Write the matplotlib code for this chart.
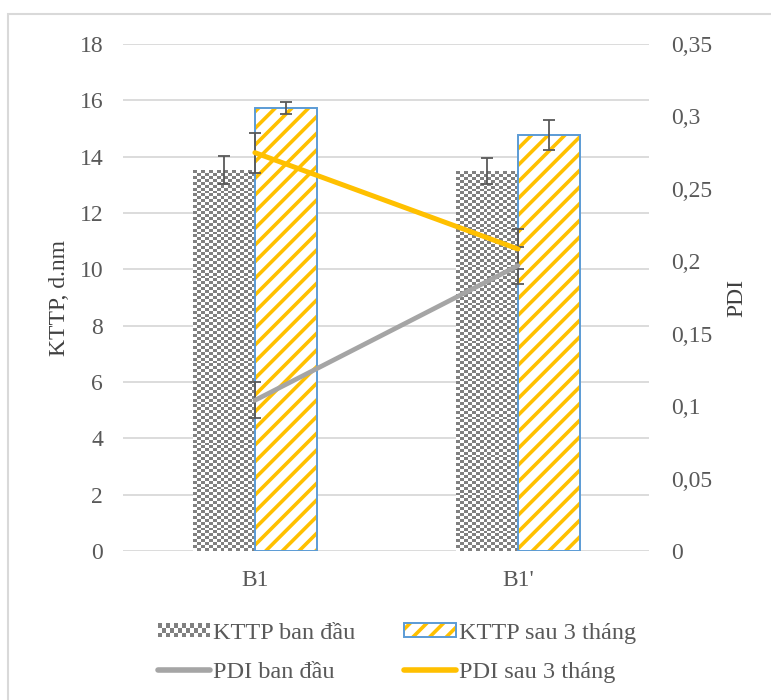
import numpy as np
import matplotlib
matplotlib.use("Agg")
import matplotlib.pyplot as plt
from matplotlib.patches import Rectangle, Patch
from matplotlib.lines import Line2D
from matplotlib.colors import ListedColormap
from matplotlib.legend_handler import HandlerBase, HandlerTuple

categories = ["B1", "B1'"]
kttp_start = [13.52, 13.49]
kttp_start_err = [0.5, 0.45]
kttp_3m = [15.73, 14.77]
kttp_3m_err = [0.2, 0.53]
pdi_start = [0.104, 0.197]
pdi_start_err = [0.0125, 0.013]
pdi_3m = [0.275, 0.2085]
pdi_3m_err = [0.0138, 0.0138]

plt.rcParams["font.family"] = ["Liberation Serif", "DejaVu Serif"]
plt.rcParams["hatch.linewidth"] = 2.6

GRAY_TXT = "#595959"
GRID = "#d9d9d9"
YELLOW = "#ffc000"
BLUE = "#5b9bd5"
LINE_GRAY = "#a5a5a5"
CHECK_DARK = "#808080"
FS = 17


class CheckerHandler(HandlerBase):
    def create_artists(self, legend, orig_handle, xdescent, ydescent,
                       width, height, fontsize, trans):
        cell = 2.9
        nx = int(round(width / cell))
        ny = max(1, int(round(height / cell)))
        cw, ch = width / nx, height / ny
        arts = [Rectangle((-xdescent, -ydescent), width, height, facecolor="white",
                          edgecolor="none", transform=trans)]
        for i in range(nx):
            for j in range(ny):
                if (i + j) % 2 == 0:
                    arts.append(Rectangle((-xdescent + i * cw, -ydescent + j * ch), cw, ch,
                                          facecolor=CHECK_DARK, edgecolor="none", transform=trans))
        return arts


fig = plt.figure(figsize=(7.71, 7.0), dpi=100)
ax = fig.add_axes([0.160, 0.2129, 0.6824, 0.7242])
ax2 = ax.twinx()

x = np.arange(len(categories))
w = 0.236

# checkerboard bars
bars1 = ax.bar(x - w / 2, kttp_start, w, color="none", edgecolor="none")
checker = (np.indices((130, 16)).sum(axis=0) % 2).astype(float)
for b in bars1:
    bx, by, bw, bh = b.get_x(), b.get_y(), b.get_width(), b.get_height()
    n_rows = int(round(bh / (bw / 16)))
    im = ax.imshow(checker[:n_rows], cmap=ListedColormap(["#ffffff", CHECK_DARK]),
                   extent=(bx, bx + bw, by, by + bh), origin="lower",
                   interpolation="nearest", aspect="auto", zorder=2)
    im.set_clip_path(b)
ax.errorbar(x - w / 2, kttp_start, yerr=kttp_start_err, fmt="none",
            ecolor=GRAY_TXT, elinewidth=1.3, capsize=4.5, capthick=1.3, zorder=4)

# striped bars
ax.bar(x + w / 2, kttp_3m, w, color="white", edgecolor=YELLOW, hatch="//", linewidth=0, zorder=2)
ax.bar(x + w / 2, kttp_3m, w, fill=False, edgecolor=BLUE, linewidth=1.4, zorder=3)
ax.errorbar(x + w / 2, kttp_3m, yerr=kttp_3m_err, fmt="none",
            ecolor=GRAY_TXT, elinewidth=1.3, capsize=4.5, capthick=1.3, zorder=4)

# PDI lines
ax2.errorbar(x, pdi_start, yerr=pdi_start_err, color=LINE_GRAY, lw=3.4,
             ecolor=GRAY_TXT, elinewidth=1.3, capsize=4.5, capthick=1.3,
             solid_capstyle="round")
ax2.errorbar(x, pdi_3m, yerr=pdi_3m_err, color=YELLOW, lw=3.6,
             ecolor=GRAY_TXT, elinewidth=1.3, capsize=4.5, capthick=1.3,
             solid_capstyle="round")

ax.set_xlim(-0.5, 1.5)
ax.set_ylim(0, 18)
ax.set_yticks(np.arange(0, 19, 2))
ax2.set_ylim(0, 0.35)
ax2.set_yticks(np.arange(0, 0.351, 0.05))
ax2.set_yticklabels([("%g" % round(v, 2)).replace(".", ",") for v in np.arange(0, 0.351, 0.05)])
ax.set_xticks(x)
ax.set_xticklabels(categories)

ax.grid(axis="y", color=GRID, lw=1.3, zorder=0)
ax.set_axisbelow(True)
for a in (ax, ax2):
    for s in a.spines.values():
        s.set_visible(False)
    a.tick_params(length=0, colors=GRAY_TXT, labelsize=FS)
ax.tick_params(axis="y", pad=14.5)
ax.tick_params(axis="x", pad=14)
ax2.tick_params(axis="y", pad=15.5)

ax.set_ylabel("KTTP, d.nm", fontsize=FS, color="#404040", labelpad=7)
ax2.set_ylabel("PDI", fontsize=FS, color="#404040", labelpad=10)

checker_handle = Patch()
yellow_handle = (Patch(facecolor="white", edgecolor=YELLOW, hatch="//", lw=0),
                 Patch(fill=False, edgecolor=BLUE, lw=1.4))
handles = [
    checker_handle,
    Line2D([], [], color=LINE_GRAY, lw=4, solid_capstyle="round"),
    yellow_handle,
    Line2D([], [], color=YELLOW, lw=4, solid_capstyle="round"),
]
labels = ["KTTP ban đầu", "PDI ban đầu", "KTTP sau 3 tháng", "PDI sau 3 tháng"]
leg = fig.legend(handles, labels, ncol=2, loc="center", bbox_to_anchor=(0.515, 0.067),
                 frameon=False, fontsize=17.5, handlelength=2.14, handleheight=0.5,
                 handletextpad=0.12, columnspacing=2.0, labelspacing=0.75, labelcolor=GRAY_TXT,
                 handler_map={checker_handle: CheckerHandler(),
                              tuple: HandlerTuple(ndivide=1, pad=0)})

fig.patches.append(Rectangle((8 / 771, -0.1), 1.2, 1.1 - 14 / 700, transform=fig.transFigure,
                             fill=False, edgecolor=GRID, lw=1.5))

fig.savefig("out.png", dpi=100)
